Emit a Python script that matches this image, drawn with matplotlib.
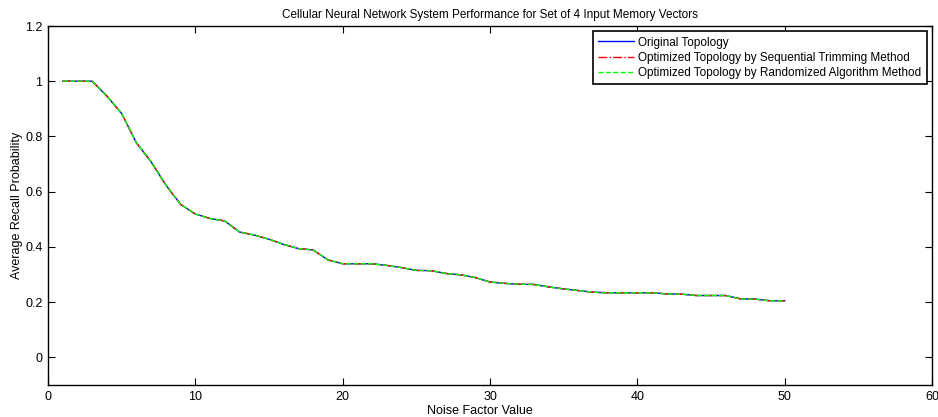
import matplotlib
matplotlib.use("Agg")
import matplotlib.pyplot as plt

# Noise factor values and average recall probability (all three curves coincide)
noise = list(range(1, 51))
recall_orig = [1.0, 1.0, 1.0, 0.946, 0.883, 0.777, 0.708, 0.624, 0.554, 0.519,
               0.503, 0.494, 0.454, 0.443, 0.428, 0.409, 0.394, 0.389, 0.353, 0.339,
               0.339, 0.339, 0.333, 0.325, 0.315, 0.314, 0.304, 0.299, 0.289, 0.273,
               0.268, 0.265, 0.264, 0.255, 0.248, 0.242, 0.236, 0.234, 0.234, 0.234,
               0.234, 0.230, 0.229, 0.224, 0.224, 0.224, 0.212, 0.211, 0.205, 0.205]
recall_seq = list(recall_orig)
recall_rand = list(recall_orig)

labels = ['Original Topology',
          'Optimized Topology by Sequential Trimming Method',
          'Optimized Topology by Randomized Algorithm Method']

plt.rcParams['font.family'] = ['Liberation Sans', 'DejaVu Sans']
plt.rcParams['font.size'] = 8.5

fig = plt.figure(figsize=(9.38, 4.17), dpi=100)
ax = fig.add_axes([48/938, 1 - 385/417, (932 - 48)/938, (385 - 26)/417])

ax.plot(noise, recall_orig, color=(0, 0, 1), lw=1, ls='-', label=labels[0])
ax.plot(noise, recall_seq, color=(1, 0, 0), lw=1, ls='-.', label=labels[1])
ax.plot(noise, recall_rand, color=(0, 1, 0), lw=1, ls='--', label=labels[2])

ax.set_xlim(0, 60)
ax.set_ylim(-0.1, 1.2)
ax.set_xticks(range(0, 61, 10))
ax.set_yticks([0, 0.2, 0.4, 0.6, 0.8, 1.0, 1.2])
ax.set_yticklabels(['0', '0.2', '0.4', '0.6', '0.8', '1', '1.2'])
ax.tick_params(direction='in', top=True, right=True, length=5, width=0.8, pad=4,
               labelsize=9)
for s in ax.spines.values():
    s.set_linewidth(1)

ax.set_xlabel('Noise Factor Value', fontsize=9, labelpad=2)
ax.xaxis.set_label_coords(0.489, -0.055)
ax.set_ylabel('Average Recall Probability', fontsize=9, labelpad=1.5)
ax.set_title('Cellular Neural Network System Performance for Set of 4 Input Memory Vectors',
             fontsize=8.5, pad=6)

leg = ax.legend(loc='upper right', fancybox=False, edgecolor='black', framealpha=1,
                borderpad=0.45, labelspacing=0.27, handlelength=3.0, handletextpad=0.4,
                borderaxespad=0.45)
leg.get_frame().set_linewidth(1.2)

fig.savefig('out.png', dpi=100)
